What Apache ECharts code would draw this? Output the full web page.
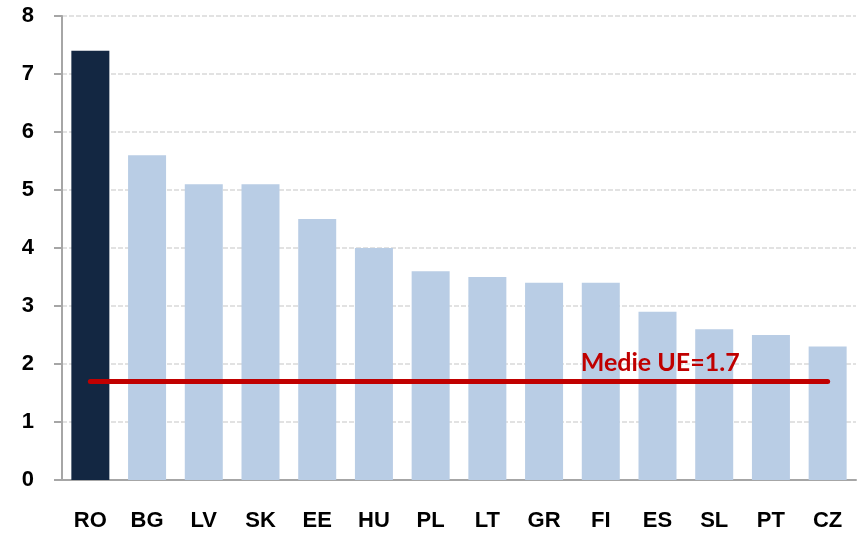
<!DOCTYPE html>
<html>
<head>
<meta charset="utf-8">
<script src="https://cdn.jsdelivr.net/npm/echarts@6/dist/echarts.min.js"></script>
<style>
  html, body { margin: 0; padding: 0; background: #fff; }
  #chart { width: 859px; height: 534px; }
</style>
</head>
<body>
<div id="chart"></div>
<script>
const countries = ["RO", "BG", "LV", "SK", "EE", "HU", "PL", "LT", "GR", "FI", "ES", "SL", "PT", "CZ"];
const values = [7.4, 5.6, 5.1, 5.1, 4.5, 4.0, 3.6, 3.5, 3.4, 3.4, 2.9, 2.6, 2.5, 2.3];
const euAverage = 1.7;
const yTicks = [0, 1, 2, 3, 4, 5, 6, 7, 8];

const myChart = echarts.init(document.getElementById("chart"));

const option = {
  animation: false,
  grid: { left: 62, right: 3, top: 16, bottom: 54 },
  xAxis: {
    type: "category",
    data: countries,
    axisLine: { lineStyle: { color: "#a6a6a6", width: 2 } },
    axisTick: { length: 7, lineStyle: { color: "#a6a6a6", width: 2 } },
    axisLabel: {
      margin: 30,
      color: "#000",
      fontFamily: "Liberation Sans",
      fontWeight: "bold",
      fontSize: 22
    }
  },
  yAxis: {
    type: "value",
    min: yTicks[0],
    max: yTicks[yTicks.length - 1],
    interval: 1,
    axisLine: { show: true, lineStyle: { color: "#a6a6a6", width: 2 } },
    axisTick: { show: true, length: 8, lineStyle: { color: "#a6a6a6", width: 2 } },
    axisLabel: {
      margin: 28,
      color: "#000",
      fontFamily: "Liberation Sans",
      fontWeight: "bold",
      fontSize: 22
    },
    splitLine: { lineStyle: { color: "#d9d9d9", width: 1.5, type: [5, 2] } }
  },
  series: [
    {
      type: "bar",
      data: values.map((v, i) => ({
        value: v,
        itemStyle: { color: i === 0 ? "#132742" : "#b9cde5" }
      })),
      barCategoryGap: "33%",
      markLine: {
        silent: true,
        symbol: "none",
        lineStyle: { color: "#c00000", width: 5, type: "solid", cap: "round" },
        label: {
          show: true,
          formatter: "Medie UE=" + euAverage,
          position: "insideEndTop",
          distance: [88, 6],
          color: "#c00000",
          fontFamily: "Lato",
          fontWeight: "bold",
          fontSize: 25
        },
        data: [[
          { coord: [countries[0], euAverage] },
          { coord: [countries[countries.length - 1], euAverage] }
        ]]
      }
    }
  ]
};

myChart.setOption(option);
</script>
</body>
</html>
